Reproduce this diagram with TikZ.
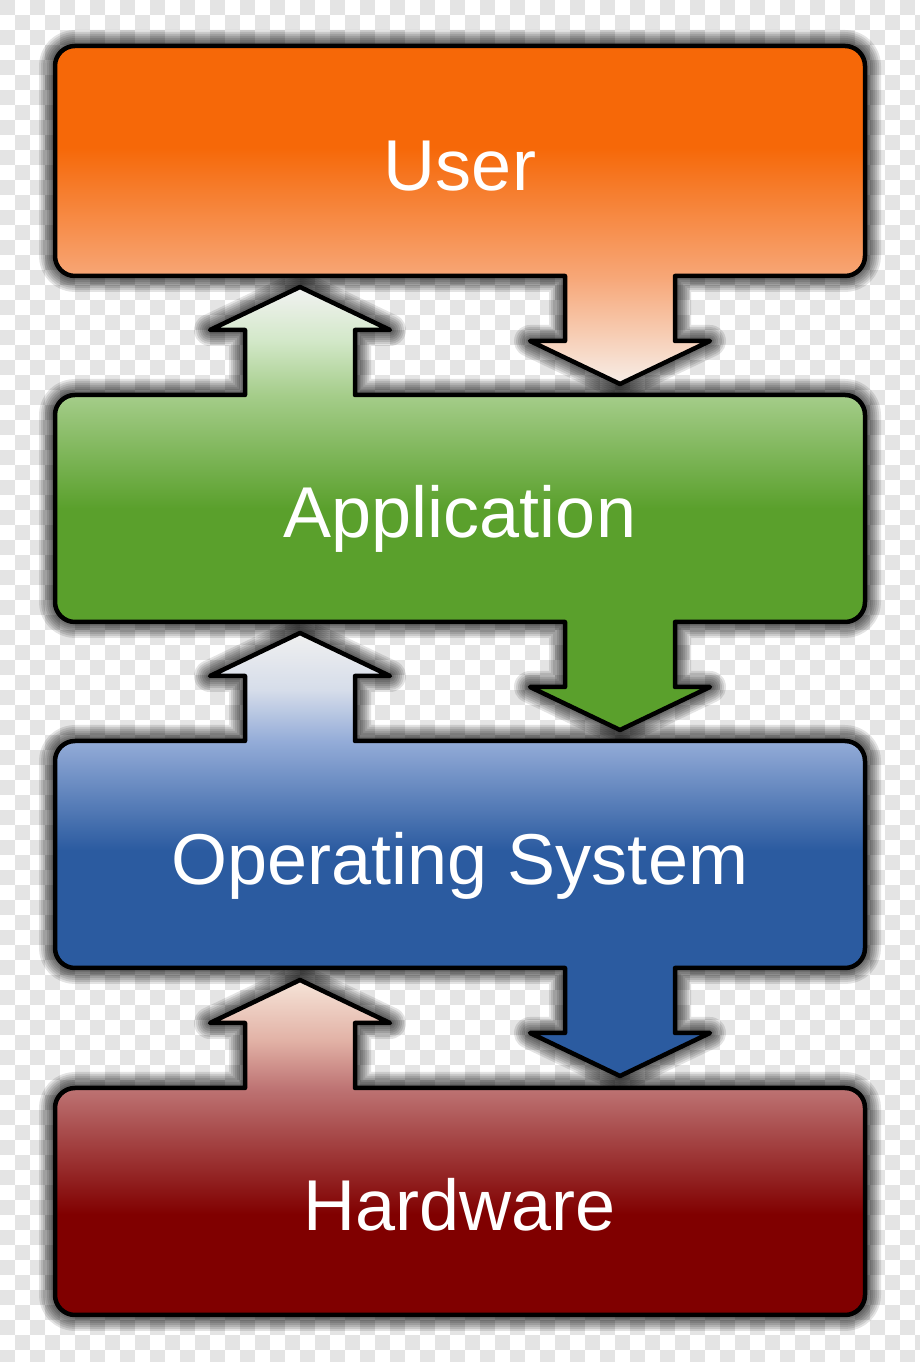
\documentclass[tikz,border=0pt]{standalone}
\usepackage{fontspec}
\setmainfont{Liberation Sans}
\definecolor{checker}{RGB}{228,228,228}
% user
\definecolor{uTop}{HTML}{F66808}
\definecolor{uLow}{HTML}{F7A676}
\definecolor{uTip}{HTML}{F7EEE8}
% application
\definecolor{aTip}{HTML}{F2F2F2}
\definecolor{aNeck}{HTML}{D3E8C9}
\definecolor{aTop}{HTML}{A5CD8A}
\definecolor{aMain}{HTML}{5AA02C}
% operating system
\definecolor{oTip}{HTML}{F0F0F0}
\definecolor{oNeck}{HTML}{D6DDEA}
\definecolor{oTop}{HTML}{94ACD8}
\definecolor{oMain}{HTML}{2B5BA0}
% hardware
\definecolor{hTip}{HTML}{F6E4D8}
\definecolor{hNeck}{HTML}{E2B2A6}
\definecolor{hTop}{HTML}{BE7474}
\definecolor{hMain}{HTML}{800000}

\pgfdeclareverticalshading{usershade}{100bp}{color(0bp)=(uTip); color(25bp)=(uTip); color(41bp)=(uLow); color(60bp)=(uTop); color(100bp)=(uTop)}
\pgfdeclareverticalshading{appshade}{100bp}{color(0bp)=(aMain); color(50bp)=(aMain); color(62.8bp)=(aTop); color(69bp)=(aNeck); color(75bp)=(aTip); color(100bp)=(aTip)}
\pgfdeclareverticalshading{osshade}{100bp}{color(0bp)=(oMain); color(50.5bp)=(oMain); color(62.8bp)=(oTop); color(68.6bp)=(oNeck); color(75bp)=(oTip); color(100bp)=(oTip)}
\pgfdeclareverticalshading{hwshade}{100bp}{color(0bp)=(hMain); color(40bp)=(hMain); color(58.9bp)=(hTop); color(66bp)=(hNeck); color(75bp)=(hTip); color(100bp)=(hTip)}

\def\userpath{(55,1106) -- (55,1296) arc[start angle=180,end angle=90,radius=20pt] -- (845,1316) arc[start angle=90,end angle=0,radius=20pt] -- (865,1106) arc[start angle=0,end angle=-90,radius=20pt] -- (675,1086) -- (675,1021) -- (710,1021) -- (620,978) -- (530,1021) -- (565,1021) -- (565,1086) -- (75,1086) arc[start angle=270,end angle=180,radius=20pt] -- cycle}
\def\apppath{(55,760) -- (55,947) arc[start angle=180,end angle=90,radius=20pt] -- (245,967) -- (245,1032) -- (210,1032) -- (300,1075) -- (390,1032) -- (355,1032) -- (355,967) -- (845,967) arc[start angle=90,end angle=0,radius=20pt] -- (865,760) arc[start angle=0,end angle=-90,radius=20pt] -- (675,740) -- (675,675) -- (710,675) -- (620,632) -- (530,675) -- (565,675) -- (565,740) -- (75,740) arc[start angle=270,end angle=180,radius=20pt] -- cycle}
\def\ospath{(55,414) -- (55,601) arc[start angle=180,end angle=90,radius=20pt] -- (245,621) -- (245,686) -- (210,686) -- (300,729) -- (390,686) -- (355,686) -- (355,621) -- (845,621) arc[start angle=90,end angle=0,radius=20pt] -- (865,414) arc[start angle=0,end angle=-90,radius=20pt] -- (675,394) -- (675,329) -- (710,329) -- (620,286) -- (530,329) -- (565,329) -- (565,394) -- (75,394) arc[start angle=270,end angle=180,radius=20pt] -- cycle}
\def\hwpath{(55,67) -- (55,254) arc[start angle=180,end angle=90,radius=20pt] -- (245,274) -- (245,339) -- (210,339) -- (300,382) -- (390,339) -- (355,339) -- (355,274) -- (845,274) arc[start angle=90,end angle=0,radius=20pt] -- (865,67) arc[start angle=0,end angle=-90,radius=20pt] -- (75,47) arc[start angle=270,end angle=180,radius=20pt] -- cycle}

\newcommand\softshadow[1]{\foreach \w in {4,8,...,32}{\draw[shadowline, line width=\w pt] #1;}}

\tikzset{
  shadowline/.style={draw=black, draw opacity=0.11, line join=round},
  layer/.style={draw=black, line width=4.5pt, line join=round},
  lbl/.style={text=white, anchor=base, inner sep=0pt, font=\fontsize{72}{72}\selectfont}
}

\begin{document}
\begin{tikzpicture}[x=1pt,y=1pt]
\useasboundingbox (0,0) rectangle (920,1362);
% transparency checkerboard
\begin{scope}
\clip (0,0) rectangle (920,1362);
\fill[white] (0,0) rectangle (920,1362);
\foreach \i in {0,...,61}{
  \pgfmathtruncatemacro\o{mod(\i,2)}
  \foreach \j in {0,...,45}{
    \fill[checker] ({15*\i},{1362-15*(2*\j+\o)}) rectangle ++(15,-15);
  }
}
\end{scope}
% soft shadows
\softshadow{\userpath}
\softshadow{\apppath}
\softshadow{\ospath}
\softshadow{\hwpath}
% layers
\draw[layer, shading=usershade] \userpath;
\draw[layer, shading=appshade] \apppath;
\draw[layer, shading=osshade] \ospath;
\draw[layer, shading=hwshade] \hwpath;
% labels
\node[lbl] (user) at (460,1171) {User};
\node[lbl] (app) at (460,824) {Application};
\node[lbl] (os) at (460,477) {Operating System};
\node[lbl] (hw) at (460,131) {Hardware};
\end{tikzpicture}
\end{document}
